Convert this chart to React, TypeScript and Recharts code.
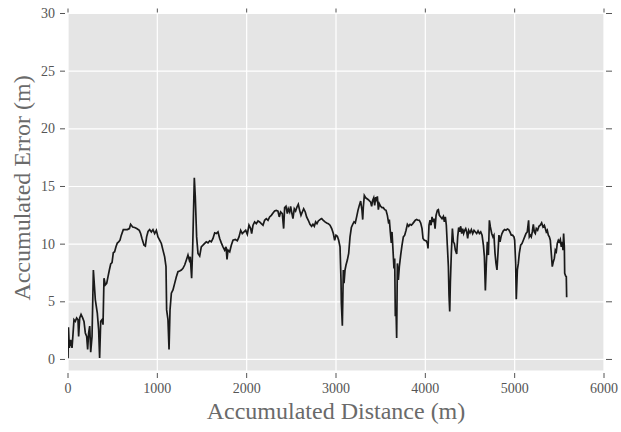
import React from "react";
import { LineChart, Line, XAxis, YAxis, CartesianGrid } from "recharts";

const distance: number[] = [
  0, 5, 15, 30, 45, 56, 67, 82, 97, 112, 119, 131, 146, 164, 179, 194, 209, 220, 231, 243, 254, 269, 284, 306, 328, 343, 354, 366, 381, 392,
  403, 418, 433, 448, 463, 478, 493, 507, 522, 537, 552, 567, 582, 597, 619, 642, 664, 687, 701, 724, 746, 769, 798, 813, 828, 851, 866, 880,
  896, 914, 933, 951, 970, 989, 1007, 1026, 1045, 1063, 1082, 1097, 1104, 1119, 1131, 1142, 1157, 1175, 1194, 1213, 1231, 1250, 1269, 1287,
  1306, 1325, 1343, 1358, 1369, 1384, 1395, 1414, 1425, 1440, 1455, 1474, 1492, 1511, 1530, 1548, 1567, 1586, 1604, 1623, 1642, 1660, 1679,
  1698, 1716, 1735, 1754, 1769, 1780, 1791, 1810, 1828, 1847, 1873,
  1895, 1914, 1933, 1951, 1970, 1989, 2007, 2026, 2045, 2056, 2071, 2089, 2108, 2127, 2145, 2164, 2183, 2201, 2220, 2239, 2257, 2276, 2295,
  2313, 2332, 2350, 2365, 2380, 2399, 2414, 2425, 2440, 2455, 2466, 2481, 2492, 2507, 2518, 2533, 2548, 2563, 2578, 2593, 2608, 2623, 2638,
  2656, 2671, 2690, 2709, 2727, 2742, 2757, 2772, 2787, 2802, 2821, 2836,
  2840, 2858, 2877, 2896, 2914, 2933, 2952, 2970, 2985, 3000, 3015, 3030, 3045, 3056, 3060, 3071, 3082, 3090, 3101, 3112, 3127, 3142, 3157,
  3172, 3187, 3202, 3216, 3231, 3246, 3261, 3276, 3291, 3299, 3306, 3317, 3332, 3347, 3362, 3377, 3388, 3399, 3410, 3422, 3433, 3444, 3455,
  3463, 3474, 3485, 3500, 3515, 3530, 3545, 3560, 3575, 3590, 3597, 3608, 3619, 3627, 3638, 3649, 3657, 3664, 3672, 3679, 3687, 3698, 3709,
  3724, 3739, 3754, 3769, 3784,
  3799, 3814, 3829, 3844, 3859, 3874, 3888, 3903, 3918, 3933, 3948, 3963, 3974, 3989, 4008, 4023, 4030, 4041, 4053, 4064, 4075, 4086, 4097,
  4109, 4120, 4135, 4146, 4157, 4172, 4187, 4202, 4213, 4224, 4235, 4247, 4258, 4265, 4273, 4280, 4291, 4303, 4314, 4325, 4336, 4351, 4362,
  4373, 4385, 4396, 4407, 4418, 4429, 4441, 4452, 4463, 4474, 4485, 4500, 4515, 4530, 4545, 4560, 4575, 4590, 4605, 4620, 4635, 4650, 4661,
  4672, 4683, 4694, 4706, 4717, 4728, 4743,
  4757, 4768, 4780, 4791, 4802, 4813, 4824, 4836, 4847, 4858, 4873, 4888, 4903, 4918, 4933, 4947, 4962, 4977, 4992, 5000, 5011, 5018, 5030,
  5041, 5052, 5067, 5082, 5097, 5112, 5127, 5141, 5156, 5164, 5175, 5186, 5197, 5209, 5220, 5231, 5242, 5257, 5272, 5287, 5302, 5317, 5332,
  5343, 5354, 5365, 5377, 5388, 5399, 5410, 5421, 5433, 5444, 5455, 5466, 5477, 5489, 5500, 5511, 5522, 5533, 5541, 5548, 5556, 5560, 5571,
  5578, 5582,
];

const error: number[] = [
  0.1, 2.8, 1.0, 1.7, 1.0, 2.2, 3.45, 3.3, 3.6, 3.45, 2.0, 3.6, 3.9, 3.6, 3.3, 2.3, 2.0, 0.86, 2.3, 2.9, 0.63, 2.0, 7.76, 5.17, 4.02, 2.59, 0.14, 3.3, 3.45, 3.02,
  7.04, 6.47, 6.6, 7.18, 7.76, 8.28, 8.39, 9.25, 9.34, 9.77, 10.1, 10.2, 10.34, 10.78, 11.26, 11.26, 11.26, 11.35, 11.72, 11.49, 11.44, 11.35, 11.2, 10.92, 10.49, 9.91, 9.83, 10.63,
  11.1, 11.26, 11.06, 11.26, 10.92, 11.2, 10.63, 10.34, 10.06, 9.48, 8.9, 8.05, 4.3, 3.45, 0.86, 4.3, 5.75, 6.03, 6.6, 7.18, 7.61, 7.67, 7.76, 7.9,
  8.19, 8.62, 9.05, 8.62, 8.9, 7.04, 9.48, 15.75, 14.08, 10.63, 9.2, 8.97, 9.77, 9.91, 10.06, 10.2, 10.11, 10.29, 10.2, 10.49, 10.98, 10.92, 11.06,
  10.49, 10.11, 9.77, 9.48, 9.77, 8.68, 9.48, 9.34, 9.91, 10.34, 10.4,
  10.29, 10.63, 11.2, 10.92, 11.06, 11.2, 10.86, 11.64, 11.35, 10.92, 11.64, 11.93, 11.78, 12.01, 11.93, 11.78, 11.64, 12.07, 12.21, 12.07, 12.36, 12.5, 12.7,
  12.87, 12.93, 12.87, 12.36, 12.79, 12.64, 11.35, 13.16, 13.28, 12.64, 13.07, 12.79, 13.28, 12.64, 12.21, 13.07, 12.87, 13.22, 13.45, 12.93, 12.5, 12.79, 13.07,
  12.79, 12.36, 12.07, 11.72, 11.55, 11.72, 11.55, 11.93, 11.78, 12.01, 12.13, 12.21,
  12.21, 12.07, 11.93, 11.84, 11.78, 11.64, 11.35, 10.92, 10.34, 10.78, 10.69, 10.34, 9.77, 6.9, 4.89, 2.93, 7.76, 6.61, 7.76, 8.19, 8.62, 9.2, 10.63,
  11.44, 11.72, 11.93, 11.84, 12.36, 12.93, 13.36, 13.74, 12.93, 12.13, 13.22, 14.22, 14.02, 13.94, 13.85, 13.74, 13.65, 13.28, 13.79, 14.02, 13.36, 14.08, 13.85,
  14.14, 12.99, 13.51, 13.28, 13.16, 13.16, 12.99, 12.93, 12.5, 11.78, 12.13, 11.06, 10.11, 11.06, 9.48, 7.9, 8.76, 3.74, 4.31, 1.87, 8.33, 6.9, 8.05,
  9.05, 9.91, 10.63, 10.78, 11.2,
  11.72, 11.55, 11.72, 11.64, 11.78, 11.93, 12.07, 12.13, 12.07, 12.07, 11.84, 11.35, 10.49, 10.34, 10.29, 10.06, 9.63, 11.64, 12.07, 11.64, 12.36, 11.93, 12.21,
  11.35, 12.5, 12.93, 12.99, 12.5, 12.36, 12.21, 12.41, 11.93, 12.36, 11.64, 9.77, 8.05, 5.6, 4.17, 6.61, 9.2, 11.35, 10.2, 10.06, 9.48, 9.14, 10.63,
  11.44, 11.06, 11.55, 10.92, 11.35, 10.92, 11.2, 11.35, 11.06, 10.49, 11.2, 10.98, 11.26, 10.92, 11.2, 11.06, 10.92, 11.15, 10.92, 11.06, 10.78, 9.91, 8.91,
  5.98, 8.33, 10.2, 9.05, 12.07, 11.49, 10.92,
  10.63, 10.78, 9.2, 8.33, 7.76, 9.2, 10.78, 10.2, 10.63, 10.92, 11.15, 11.26, 11.2, 11.32, 11.26, 11.06, 10.78, 10.78, 10.63, 10.34, 8.33, 5.23, 7.76,
  8.33, 9.2, 9.91, 10.06, 10.34, 10.63, 10.92, 11.06, 12.07, 10.63, 10.78, 10.63, 11.06, 11.72, 11.06, 10.92, 11.35, 11.2, 11.55, 11.64, 11.84, 11.49, 11.64,
  11.35, 11.06, 11.2, 10.78, 10.63, 10.34, 9.2, 8.05, 8.48, 8.76, 9.48, 9.34, 10.06, 10.34, 10.2, 10.4, 9.77, 10.2, 9.48, 10.92, 9.77, 7.47, 7.24,
  7.18, 5.4,
];

const xTicks: number[] = [0, 1000, 2000, 3000, 4000, 5000, 6000];
const yTicks: number[] = [0, 5, 10, 15, 20, 25, 30];

const data = distance.map((d, i) => ({ d, e: error[i] }));

const FONT = '"Liberation Serif", "Times New Roman", serif';
const TEXT = "#555555";

const BottomTick = (props: any) => {
  const { x, y, payload } = props;
  return (
    <g>
      <line x1={x} x2={x} y1={y + 2} y2={y + 7} stroke={TEXT} strokeWidth={1} />
      <text x={x} y={y + 17} textAnchor="middle" dominantBaseline="central" fontFamily={FONT} fontSize={14} fill={TEXT}>
        {payload.value}
      </text>
    </g>
  );
};

const TopTick = (props: any) => {
  const { x, y } = props;
  return <line x1={x} x2={x} y1={y - 1} y2={y - 5} stroke={TEXT} strokeWidth={1} />;
};

const LeftTick = (props: any) => {
  const { x, y, payload } = props;
  return (
    <g>
      <line x1={x - 8} x2={x - 3} y1={y} y2={y} stroke={TEXT} strokeWidth={1} />
      <text x={x - 13} y={y} textAnchor="end" dominantBaseline="central" fontFamily={FONT} fontSize={14} fill={TEXT}>
        {payload.value}
      </text>
    </g>
  );
};

const RightTick = (props: any) => {
  const { x, y } = props;
  return <line x1={x + 2} x2={x + 8} y1={y} y2={y} stroke={TEXT} strokeWidth={1} />;
};

export default function App() {
  return (
    <div style={{ position: "absolute", left: 0, top: 0, width: 621, height: 432 }}>
      <LineChart width={621} height={432} data={data} margin={{ top: 0, right: 0, bottom: 0, left: 0 }}>
        <CartesianGrid fill="#E5E5E5" stroke="#FFFFFF" strokeWidth={1.2} />
        <XAxis
          dataKey="d"
          type="number"
          domain={[0, 6000]}
          ticks={xTicks}
          height={61}
          axisLine={false}
          tickLine={false}
          tickSize={0}
          tickMargin={0}
          tick={<BottomTick />}
          interval={0}
          allowDataOverflow
        />
        <XAxis
          xAxisId="top"
          orientation="top"
          dataKey="d"
          type="number"
          domain={[0, 6000]}
          ticks={xTicks}
          height={13.5}
          axisLine={false}
          tickLine={false}
          tickSize={0}
          tickMargin={0}
          tick={<TopTick />}
          interval={0}
          allowDataOverflow
        />
        <YAxis
          type="number"
          domain={[-1, 30]}
          ticks={yTicks}
          width={68}
          axisLine={false}
          tickLine={false}
          tickSize={0}
          tickMargin={0}
          tick={<LeftTick />}
          interval={0}
          allowDataOverflow
        />
        <YAxis
          yAxisId="right"
          orientation="right"
          type="number"
          domain={[-1, 30]}
          ticks={yTicks}
          width={17}
          axisLine={false}
          tickLine={false}
          tickSize={0}
          tickMargin={0}
          tick={<RightTick />}
          interval={0}
          allowDataOverflow
        />
        <Line
          type="linear"
          dataKey="e"
          stroke="#1a1a1a"
          strokeWidth={1.7}
          dot={false}
          isAnimationActive={false}
        />
        <text x={336} y={411} textAnchor="middle" dominantBaseline="central" fontFamily={FONT} fontSize={24} fill="#6a6a6a">
          Accumulated Distance (m)
        </text>
        <text
          x={22}
          y={188}
          textAnchor="middle"
          dominantBaseline="central"
          fontFamily={FONT}
          fontSize={24}
          fill="#6a6a6a"
          transform="rotate(-90 22 188)"
        >
          Accumulated Error (m)
        </text>
      </LineChart>
    </div>
  );
}
